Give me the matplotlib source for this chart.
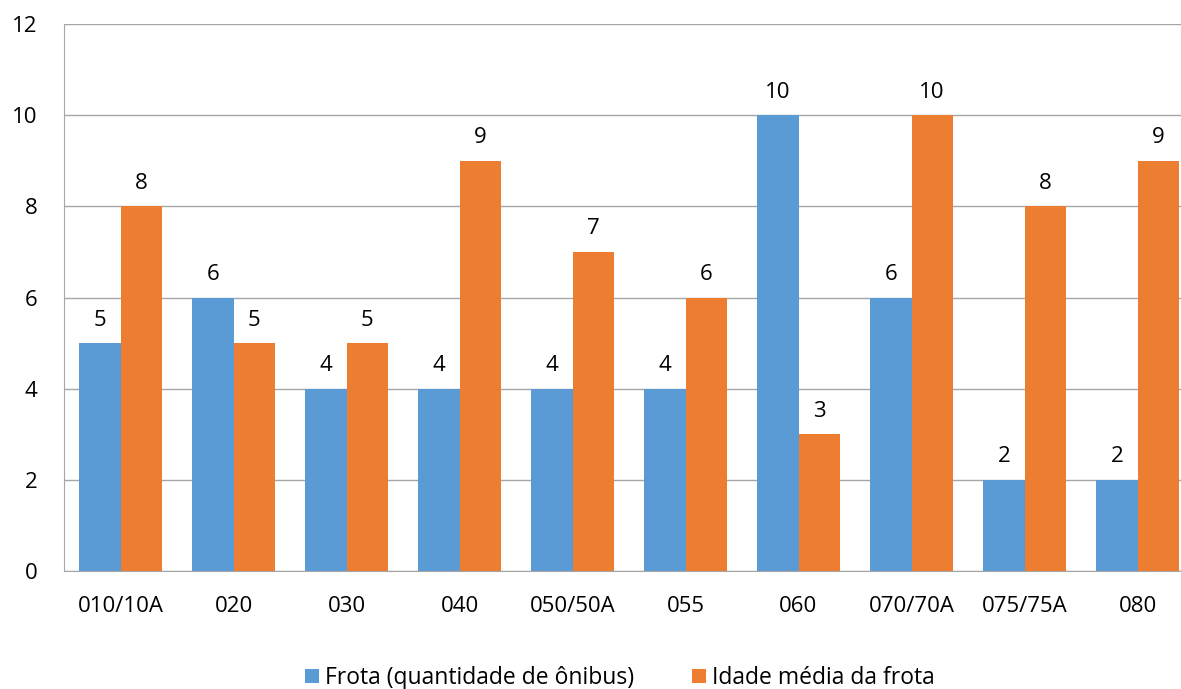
import matplotlib.pyplot as plt
import numpy as np

plt.rcParams['font.family'] = ['Open Sans', 'DejaVu Sans']

categories = ["010/10A", "020", "030", "040", "050/50A", "055", "060", "070/70A", "075/75A", "080"]
frota = [5, 6, 4, 4, 4, 4, 10, 6, 2, 2]
idade = [8, 5, 5, 9, 7, 6, 3, 10, 8, 9]
labels = ["Frota (quantidade de ônibus)", "Idade média da frota"]

blue = "#5B9BD5"
orange = "#ED7D31"
grid = "#A6A6A6"
fs = 16

fig = plt.figure(figsize=(11.81, 6.89), dpi=100)
# plot area runs slightly past the right edge, like the cropped original
ax = fig.add_axes([64 / 1181, 1 - 571 / 689, 1130 / 1181, 547 / 689])

x = np.arange(len(categories))
w = 0.363
b1 = ax.bar(x - w / 2, frota, w, color=blue, label=labels[0], zorder=2)
b2 = ax.bar(x + w / 2, idade, w, color=orange, label=labels[1], zorder=2)

for bars in (b1, b2):
    for r in bars:
        ax.annotate(f"{int(r.get_height())}", (r.get_x() + r.get_width() / 2, r.get_height()),
                    xytext=(0, 9), textcoords="offset points", ha="center", va="bottom",
                    fontsize=fs, color="black")

ax.set_xlim(-0.5, len(categories) - 0.5)
ax.set_ylim(0, 12)
ax.set_yticks(range(0, 13, 2))
ax.set_xticks(x)
ax.set_xticklabels(categories)
ax.tick_params(axis="both", length=0, labelsize=fs, colors="black")
ax.tick_params(axis="x", pad=18)
ax.tick_params(axis="y", pad=19)

ax.grid(axis="y", color=grid, linewidth=1, zorder=0)
for s in ["top", "right"]:
    ax.spines[s].set_visible(False)
ax.spines["left"].set_color(grid)
ax.spines["bottom"].set_color(grid)

fig.legend(handles=[b1, b2], labels=labels, loc="center", bbox_to_anchor=(620 / 1181, 1 - 678 / 689),
           ncol=2, frameon=False, fontsize=16.5, handlelength=0.6, handleheight=0.6,
           columnspacing=2.5, handletextpad=0.3)

fig.savefig("out.png", dpi=100)
